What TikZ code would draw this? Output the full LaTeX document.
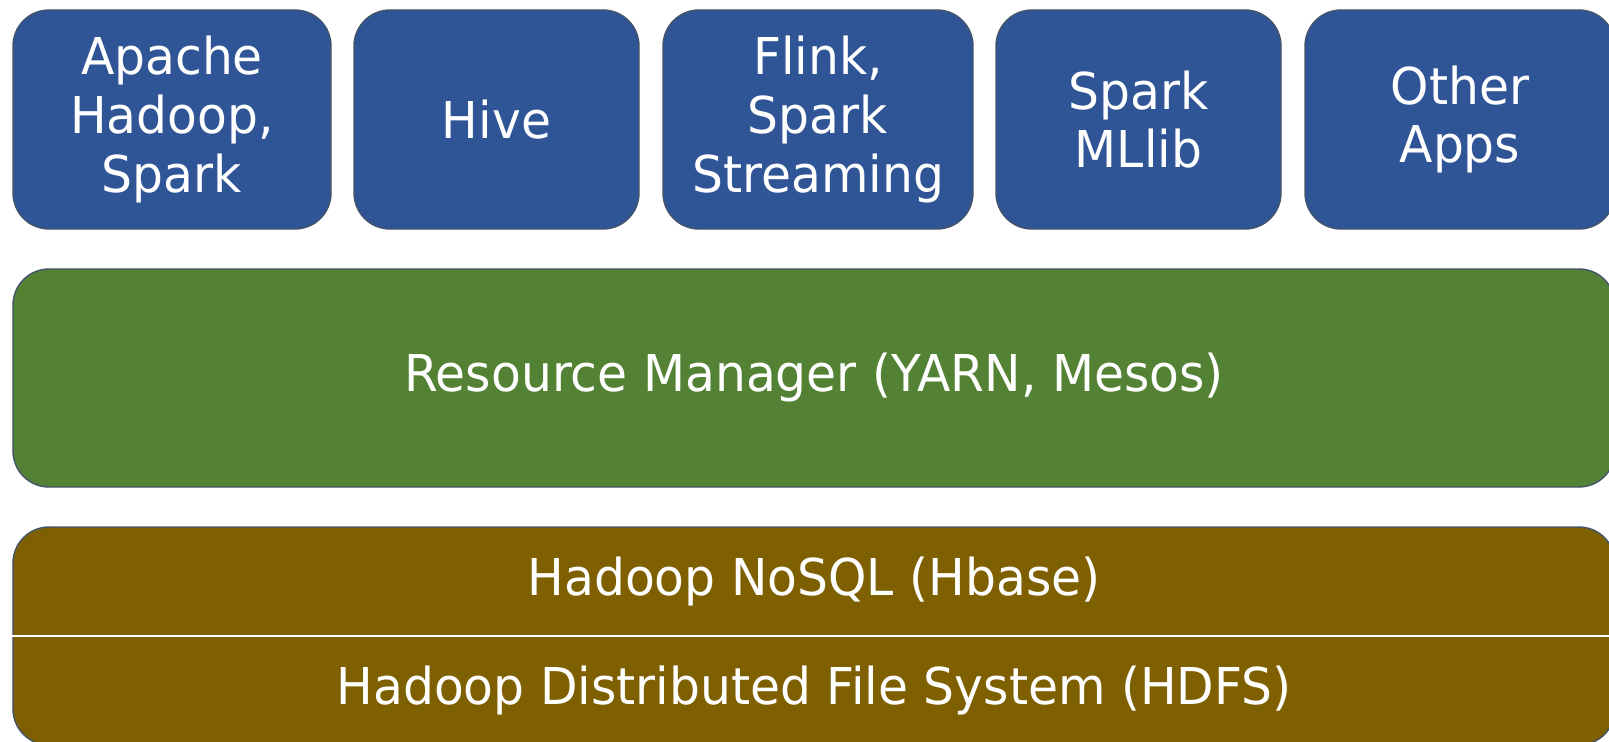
\documentclass[tikz,border=0pt]{standalone}
\usepackage{fontspec}
\setmainfont{DejaVu Sans}[FakeStretch=0.96]
\usepackage{xcolor}
\usepackage{tikz}
\usetikzlibrary{positioning,calc}
\definecolor{hblue}{RGB}{47,85,151}
\definecolor{hgreen}{RGB}{84,130,53}
\definecolor{hbrown}{RGB}{127,96,0}
\definecolor{hedge}{RGB}{68,84,106}
\tikzset{
  box/.style  ={rectangle, rounded corners=0.72cm, draw=hedge, line width=0.8pt,
                align=center, inner sep=0pt, text=white,
                font=\fontsize{28.9}{33.3}\selectfont},
  app/.style  ={box, fill=hblue, minimum height=4.38cm},
  layer/.style={box, minimum width=32.04cm, minimum height=4.36cm},
  lbl/.style  ={align=center, inner sep=0pt, text=white,
                font=\fontsize{28.9}{33.3}\selectfont}
}
\begin{document}
\begin{tikzpicture}
\useasboundingbox (0,0) rectangle (32.18,-14.84);
\node[app, minimum width=6.36cm] (hadoop) at (3.44,-2.39) {Apache\\Hadoop,\\Spark};
\node[app, minimum width=5.70cm] (hive)   at (9.93,-2.39) {Hive};
\node[app, minimum width=6.20cm] (flink)  at (16.36,-2.39) {Flink,\\Spark\\Streaming};
\node[app, minimum width=5.70cm] (mllib)  at (22.77,-2.39) {Spark\\MLlib};
\node[app, minimum width=6.20cm] (other)  at (29.20,-2.39) {Other\\Apps};
\node[layer, fill=hgreen] (yarn) at (16.28,-7.56) {Resource Manager (YARN, Mesos)};
\node[layer, fill=hbrown] (store) at (16.28,-12.72) {};
\draw[white, line width=1.1pt] (store.west) -- (store.east);
\node[lbl] (hbase) at ($(store.north)!0.5!(store.center)$) {Hadoop NoSQL (Hbase)};
\node[lbl] (hdfs)  at ($(store.south)!0.5!(store.center)$) {Hadoop Distributed File System (HDFS)};
\end{tikzpicture}
\end{document}
